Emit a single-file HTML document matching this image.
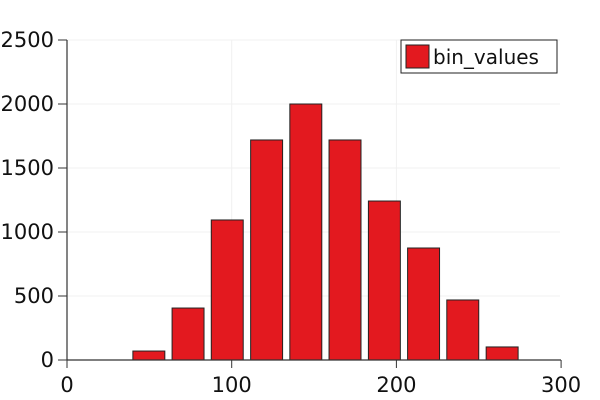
<!DOCTYPE html>
<html><head><meta charset="utf-8"><style>body{margin:0;background:#fff}svg{display:block}text{font-family:"DejaVu Sans","Liberation Sans",sans-serif}</style></head>
<body>
<svg id="chart" width="600" height="400" xmlns="http://www.w3.org/2000/svg"></svg>
<script>
const binCenters=[49.7,73.5,97.3,121.2,145,168.8,192.7,216.5,240.3,264.2];
const binValues=[70,406,1094,1719,2000,1719,1242,875,469,102];
const binWidth=19.4;
const xTicks=[0,100,200,300];
const yTicks=[0,500,1000,1500,2000,2500];
const svg=document.getElementById('chart');
const NS='http://www.w3.org/2000/svg';
const X=v=>67+v*1.647, Y=v=>360-v*0.128;
function mk(t,a,p){const e=document.createElementNS(NS,t);for(const k in a)e.setAttribute(k,a[k]);(p||svg).appendChild(e);return e;}
yTicks.forEach(v=>{if(v>0){const g=mk('line',{x1:67,x2:560,y1:Y(v),y2:Y(v),stroke:'#f0f0f0','stroke-width':1});

}});
xTicks.forEach(v=>{if(v>0&&v<300){const g=mk('line',{x1:X(v),x2:X(v),y1:40,y2:360,stroke:'#f0f0f0','stroke-width':1});

}});
binCenters.forEach((c,i)=>{const r=mk('rect',{x:X(c-binWidth/2),y:Y(binValues[i]),width:binWidth*1.647,height:Y(0)-Y(binValues[i]),fill:'#e3191f',stroke:'#222','stroke-width':1});

});
const ya=mk('line',{x1:67,x2:67,y1:40,y2:360,stroke:'#333','stroke-width':1.2});


const xa=mk('line',{x1:67,x2:561,y1:360,y2:360,stroke:'#333','stroke-width':1.2});


yTicks.forEach(v=>{mk('line',{x1:58,x2:67,y1:Y(v),y2:Y(v),stroke:'#333'});
const t=mk('text',{x:54,y:Y(v)+7,'text-anchor':'end','font-size':21,fill:'#111'});t.textContent=v;

});
xTicks.forEach(v=>{mk('line',{x1:X(v),x2:X(v),y1:360,y2:368,stroke:'#333'});
const t=mk('text',{x:X(v),y:392,'text-anchor':'middle','font-size':21,fill:'#111'});t.textContent=v;

});
const lg=mk('g',{});


mk('rect',{x:401,y:40,width:156,height:33,fill:'#fff',stroke:'#222','stroke-width':1},lg);
mk('rect',{x:406,y:45,width:23,height:23,fill:'#e3191f',stroke:'#222'},lg);
const lt=mk('text',{x:433,y:64,'font-size':20,fill:'#111'},lg);lt.textContent='bin_values';


</script>
</body></html>
